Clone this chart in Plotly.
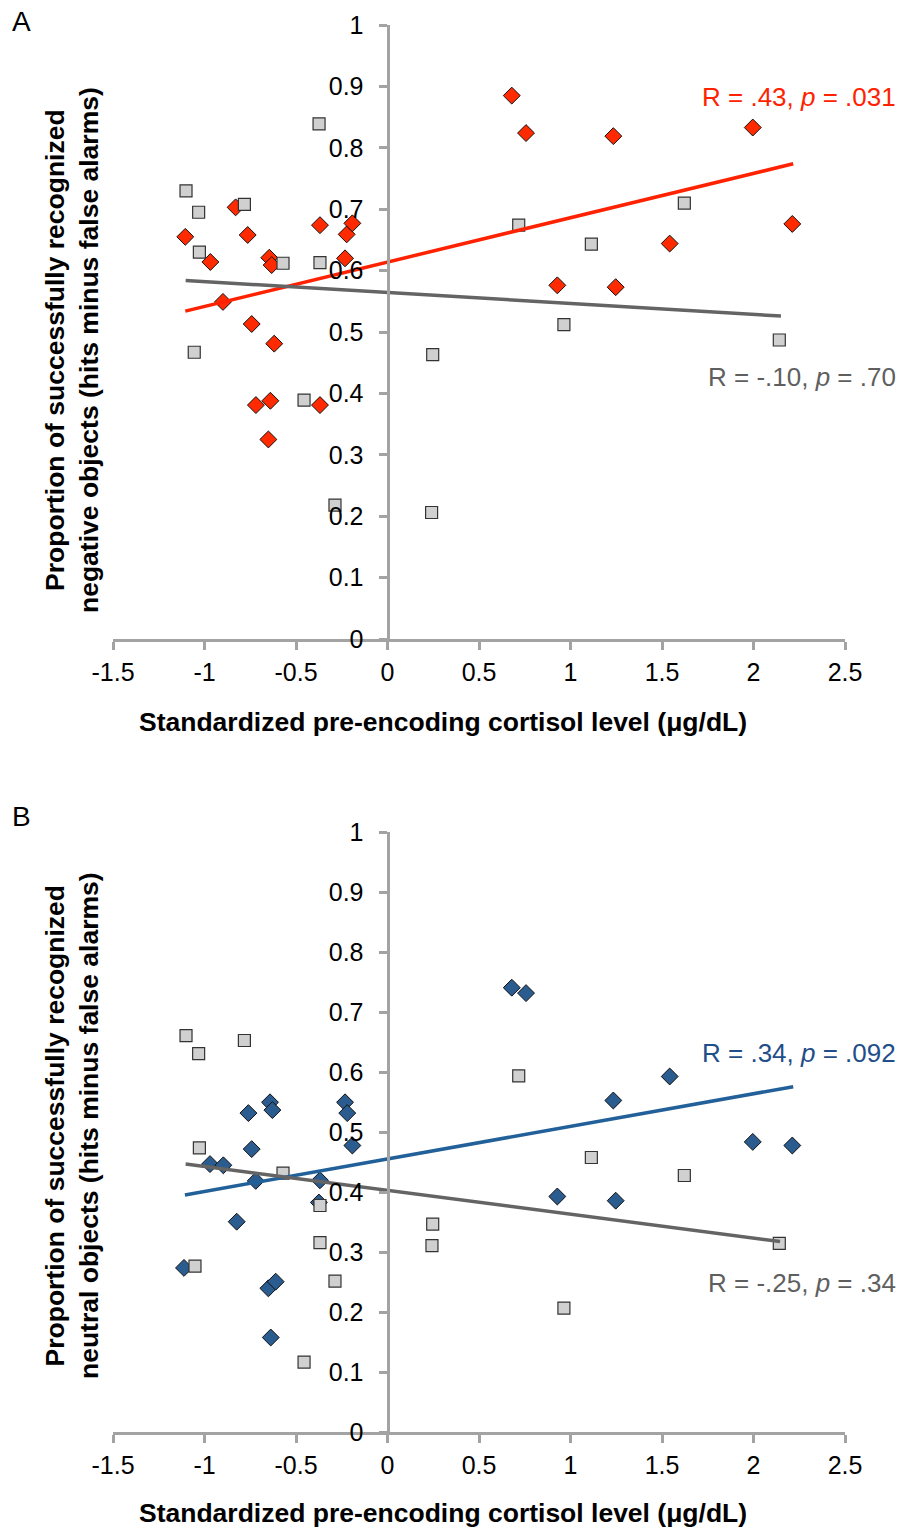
import plotly.graph_objects as go

# ---------------- data ----------------
x_tick_vals = [-1.5, -1, -0.5, 0, 0.5, 1, 1.5, 2, 2.5]
x_tick_text = ["-1.5", "-1", "-0.5", "0", "0.5", "1", "1.5", "2", "2.5"]
y_tick_vals = [0, 0.1, 0.2, 0.3, 0.4, 0.5, 0.6, 0.7, 0.8, 0.9, 1]
y_tick_text = ["0", "0.1", "0.2", "0.3", "0.4", "0.5", "0.6", "0.7", "0.8", "0.9", "1"]

# Panel A: negative objects
a_stress_x = [-0.830, -1.105, -0.764, -0.968, -0.646, -0.633, -0.369, -0.223, -0.192, -0.232,
              -0.899, -0.742, -0.619, -0.719, -0.640, -0.369, -0.651, 0.679, 0.757, 1.234,
              1.996, 2.212, 1.542, 0.928, 1.247]
a_stress_y = [0.703, 0.655, 0.658, 0.614, 0.621, 0.609, 0.674, 0.659, 0.677, 0.620,
              0.549, 0.513, 0.481, 0.381, 0.388, 0.381, 0.325, 0.885, 0.824, 0.819,
              0.833, 0.676, 0.644, 0.576, 0.573]
a_control_x = [-0.374, -1.101, -1.032, -0.782, -1.028, -0.571, -0.369, -1.056, -0.456, -0.287,
               0.717, 1.622, 1.114, 0.964, 2.141, 0.247, 0.241]
a_control_y = [0.839, 0.730, 0.695, 0.708, 0.630, 0.612, 0.613, 0.467, 0.389, 0.218,
               0.674, 0.710, 0.643, 0.512, 0.487, 0.463, 0.206]
a_fit_stress_x = [-1.105, 2.217]
a_fit_stress_y = [0.534, 0.774]
a_fit_control_x = [-1.103, 2.150]
a_fit_control_y = [0.584, 0.526]

# Panel B: neutral objects
b_stress_x = [-0.760, -0.642, -0.629, -0.232, -0.220, -0.192, -0.742, -0.970, -0.897, -0.720,
              -0.369, -0.824, -1.112, -0.651, -0.611, -0.638, 0.679, 0.757, 1.542, 1.234,
              1.996, 2.212, 0.928, 1.247, -0.375]
b_stress_y = [0.532, 0.550, 0.537, 0.550, 0.532, 0.478, 0.472, 0.447, 0.445, 0.419,
              0.420, 0.351, 0.274, 0.240, 0.251, 0.158, 0.741, 0.732, 0.593, 0.553,
              0.484, 0.478, 0.393, 0.386, 0.383]
b_control_x = [-1.101, -1.032, -0.782, -1.028, -0.571, -0.369, -0.369, -1.052, -0.287, -0.456,
               0.717, 1.114, 1.622, 0.247, 0.243, 2.141, 0.964]
b_control_y = [0.661, 0.631, 0.653, 0.474, 0.432, 0.378, 0.316, 0.277, 0.252, 0.117,
               0.594, 0.458, 0.428, 0.347, 0.311, 0.315, 0.207]
b_fit_stress_x = [-1.107, 2.217]
b_fit_stress_y = [0.3955, 0.576]
b_fit_control_x = [-1.103, 2.145]
b_fit_control_y = [0.447, 0.318]

# ---------------- style ----------------
FONT = "Liberation Sans, Arial, sans-serif"
RED = "#FF2A00"
RED_LINE = "#FF2200"
BLUE = "#2B5C8F"
BLUE_LINE = "#22609A"
GRAY_FILL = "#D0D0D0"
GRAY_LINE = "#646464"
AXIS = "#A3A3A3"

W, H = 901, 1529
fig = go.Figure()


def add_panel(xa, ya, sx, sy, cx, cy, fsx, fsy, fcx, fcy, dcol, lcol):
    fig.add_trace(go.Scatter(x=sx, y=sy, mode="markers", xaxis=xa, yaxis=ya,
                             marker=dict(symbol="diamond", size=13, color=dcol,
                                         line=dict(color="#111111", width=1)),
                             showlegend=False, hoverinfo="skip"))
    fig.add_trace(go.Scatter(x=cx, y=cy, mode="markers", xaxis=xa, yaxis=ya,
                             marker=dict(symbol="square", size=12, color=GRAY_FILL,
                                         line=dict(color="#333333", width=1.2)),
                             showlegend=False, hoverinfo="skip"))
    fig.add_trace(go.Scatter(x=fsx, y=fsy, mode="lines", xaxis=xa, yaxis=ya,
                             line=dict(color=lcol, width=3.5),
                             showlegend=False, hoverinfo="skip"))
    fig.add_trace(go.Scatter(x=fcx, y=fcy, mode="lines", xaxis=xa, yaxis=ya,
                             line=dict(color=GRAY_LINE, width=3.5),
                             showlegend=False, hoverinfo="skip"))


add_panel("x", "y", a_stress_x, a_stress_y, a_control_x, a_control_y,
          a_fit_stress_x, a_fit_stress_y, a_fit_control_x, a_fit_control_y, RED, RED_LINE)
add_panel("x2", "y2", b_stress_x, b_stress_y, b_control_x, b_control_y,
          b_fit_stress_x, b_fit_stress_y, b_fit_control_x, b_fit_control_y, BLUE, BLUE_LINE)

x_dom = [113 / W, 845 / W]
y_pos = 387.5 / W
ydom_a = [(H - 639) / H, (H - 25) / H]
ydom_b = [(H - 1432.3) / H, (H - 832.3) / H]

xcommon = dict(range=[-1.5, 2.5], domain=x_dom, showline=True, linecolor=AXIS, linewidth=3,
               ticks="outside", ticklen=8, tickwidth=3, tickcolor=AXIS, automargin=False,
               tickvals=x_tick_vals, ticktext=x_tick_text, showgrid=False, zeroline=False,
               tickfont=dict(family=FONT, size=25, color="black"), ticklabelstandoff=1)
ycommon = dict(range=[0, 1], anchor="free", position=y_pos, showline=True, linecolor=AXIS,
               linewidth=3, ticks="outside", ticklen=8, tickwidth=3, tickcolor=AXIS,
               automargin=False,
               tickvals=y_tick_vals, ticktext=y_tick_text, showgrid=False, zeroline=False,
               tickfont=dict(family=FONT, size=25, color="black"), ticklabelstandoff=10)

fig.update_layout(
    width=W, height=H, margin=dict(l=0, r=0, t=0, b=0, autoexpand=False),
    paper_bgcolor="white", plot_bgcolor="white",
    xaxis=dict(anchor="y", **xcommon),
    yaxis=dict(domain=ydom_a, **ycommon),
    xaxis2=dict(anchor="y2", **xcommon),
    yaxis2=dict(domain=ydom_b, **ycommon),
    font=dict(family=FONT, color="black"),
    hovermode=False,
)

ann = []


def label(text, px, py, size, color="black", xanchor="center", bold=False, angle=0):
    t = f"<b>{text}</b>" if bold else text
    ann.append(dict(text=t, x=px / W, y=(H - py) / H, xref="paper", yref="paper",
                    xanchor=xanchor, yanchor="middle", showarrow=False, textangle=angle,
                    font=dict(family=FONT, size=size, color=color)))


label("A", 21, 21, 28)
label("B", 21, 816, 28)
label("Standardized pre-encoding cortisol level (μg/dL)", 443, 722, 26.5, bold=True)
label("Standardized pre-encoding cortisol level (μg/dL)", 443, 1513, 26.5, bold=True)
label("Proportion of successfully recognized<br>negative objects (hits minus false alarms)",
      72, 350, 26.5, bold=True, angle=-90)
label("Proportion of successfully recognized<br>neutral objects (hits minus false alarms)",
      72, 1126, 26.5, bold=True, angle=-90)
label("R = .43, <i>p</i> = .031", 898, 97, 26, color="#FF2200", xanchor="right")
label("R = -.10, <i>p</i> = .70", 898, 377, 26, color="#5F5F5F", xanchor="right")
label("R = .34, <i>p</i> = .092", 898, 1053, 26, color="#1F4E89", xanchor="right")
label("R = -.25, <i>p</i> = .34", 898, 1283, 26, color="#5F5F5F", xanchor="right")

fig.update_layout(annotations=ann)
fig.write_html("out.html", config={"displayModeBar": False, "staticPlot": True},
               post_script="document.body.style.margin='0px';document.body.style.overflow='hidden';")
